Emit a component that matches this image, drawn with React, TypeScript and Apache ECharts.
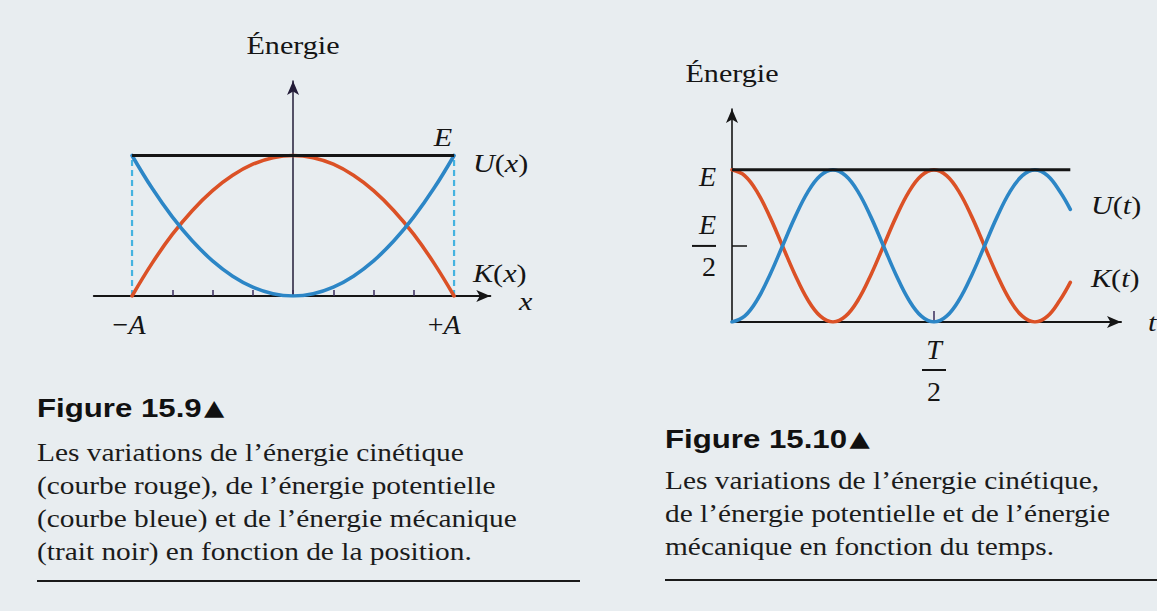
import React, { useEffect, useRef } from "react";
import * as echarts from "echarts";

// Figure 15.9: energy against position. Position in quarters of the amplitude A, energy in units of E.
const positions = [-4, -3.5, -3, -2.5, -2, -1.5, -1, -0.5, 0, 0.5, 1, 1.5, 2, 2.5, 3, 3.5, 4];
const potentialByPosition = [1, 0.766, 0.563, 0.391, 0.25, 0.141, 0.063, 0.016, 0, 0.016, 0.063, 0.141, 0.25, 0.391, 0.563, 0.766, 1];
const kineticByPosition = [0, 0.234, 0.438, 0.609, 0.75, 0.859, 0.938, 0.984, 1, 0.984, 0.938, 0.859, 0.75, 0.609, 0.438, 0.234, 0];
const positionTicks = [-4, -3, -2, -1, 0, 1, 2, 3, 4];
const positionLabels = [-4, 4];
const amplitude = 4;

// Figure 15.10: energy against time. Time in periods T, energy in units of E.
const times = [
  0, 0.03125, 0.0625, 0.09375, 0.125, 0.15625, 0.1875, 0.21875, 0.25, 0.28125, 0.3125, 0.34375, 0.375, 0.40625,
  0.4375, 0.46875, 0.5, 0.53125, 0.5625, 0.59375, 0.625, 0.65625, 0.6875, 0.71875, 0.75, 0.78125, 0.8125, 0.8375,
];
const potentialByTime = [
  0, 0.038, 0.146, 0.309, 0.5, 0.691, 0.854, 0.962, 1, 0.962, 0.854, 0.691, 0.5, 0.309,
  0.146, 0.038, 0, 0.038, 0.146, 0.309, 0.5, 0.691, 0.854, 0.962, 1, 0.962, 0.854, 0.74,
];
const kineticByTime = [
  1, 0.962, 0.854, 0.691, 0.5, 0.309, 0.146, 0.038, 0, 0.038, 0.146, 0.309, 0.5, 0.691,
  0.854, 0.962, 1, 0.962, 0.854, 0.691, 0.5, 0.309, 0.146, 0.038, 0, 0.038, 0.146, 0.26,
];
const timeTicks = [0.5];
const energyTicks = [0.5];
const energyLabels = [0.5, 1];
const mechanicalEnergy = 1;

const SERIF = "'Liberation Serif', 'Times New Roman', serif";
const SANS = "'Liberation Sans', Arial, sans-serif";
const INK = "#151515";
const AXIS_INK = "#231c38";
const RED = "#db5126";
const BLUE = "#2c86c6";
const DASH = "#45b3e0";

const pairs = (xs: number[], ys: number[]) => xs.map((x, i) => [x, ys[i]]);

const ital = { fontFamily: SERIF, fontStyle: "italic", fontSize: 28, color: INK };
const upright = { fontFamily: SERIF, fontStyle: "normal", fontSize: 28, color: INK };

const STRETCH = 1.16;

function label(x: number, y: number, text: string, align = "left", size = 26) {
  return {
    type: "text",
    x,
    y,
    scaleX: STRETCH,
    style: {
      text,
      align,
      verticalAlign: "middle",
      fontFamily: SERIF,
      fontSize: size,
      fill: INK,
      rich: {
        i: { fontFamily: SERIF, fontStyle: "italic", fontSize: size, fill: INK },
        n: { fontFamily: SERIF, fontStyle: "normal", fontSize: size, fill: INK },
      },
    },
  };
}

function caption(x: number, y: number, text: string) {
  return {
    type: "text",
    x,
    y,
    scaleX: 1.13,
    style: { text, verticalAlign: "middle", fontFamily: SERIF, fontSize: 26, fill: "#1b1b1b" },
  };
}

function heading(x: number, y: number, text: string) {
  return {
    type: "text",
    x,
    y,
    scaleX: 1.2,
    style: {
      text: `{h|${text}}{tri|▲}`,
      verticalAlign: "middle",
      rich: {
        h: { fontFamily: SANS, fontWeight: "bold", fontSize: 26, fill: "#111" },
        tri: { fontFamily: "'DejaVu Sans', sans-serif", fontSize: 22, fill: "#111", padding: [0, 0, 2, 2] },
      },
    },
  };
}

const fractionRich = {
  top: { ...ital, lineHeight: 30 },
  bar: { width: 24, height: 2, lineHeight: 12, backgroundColor: INK },
  bottom: { ...upright, lineHeight: 30 },
  e: { ...ital, lineHeight: 30, padding: [14, 0, 0, 0] },
};

function buildOption() {
  const lineSeries = (data: number[][], color: string, width: number, xi: number, extra: any = {}) => ({
    type: "line",
    xAxisIndex: xi,
    yAxisIndex: xi,
    data,
    symbol: "none",
    silent: true,
    lineStyle: { color, width, cap: "round", ...extra },
  });

  return {
    animation: false,
    backgroundColor: "#e8edf0",
    grid: [
      { left: 93.8, top: 81, width: 396.5, height: 215 },
      { left: 732, top: 109, width: 389, height: 213 },
    ],
    xAxis: [
      {
        gridIndex: 0,
        type: "value",
        min: -4.95,
        max: 4.9,
        axisLine: {
          show: true,
          onZero: true,
          symbol: ["none", "arrow"],
          symbolSize: [9, 14],
          lineStyle: { color: INK, width: 2 },
        },
        axisTick: {
          show: true,
          inside: true,
          length: 6,
          customValues: positionTicks,
          lineStyle: { color: "#3a2c5c", width: 1.5 },
        },
        axisLabel: {
          show: true,
          customValues: positionLabels,
          margin: 14,
          formatter: (v: number) => (v < 0 ? "{m|−}{a|A}{gap|}" : "{m|+}{a|A}{gap2|}"),
          rich: {
            m: { ...upright },
            a: { ...ital },
            gap: { width: 6 },
            gap2: { width: 20 },
          },
        },
        splitLine: { show: false },
      },
      {
        gridIndex: 1,
        type: "value",
        min: 0,
        max: 0.963,
        axisLine: {
          show: true,
          onZero: true,
          symbol: ["none", "arrow"],
          symbolSize: [9, 14],
          lineStyle: { color: INK, width: 2 },
        },
        axisTick: {
          show: true,
          inside: true,
          length: 11,
          customValues: timeTicks,
          lineStyle: { color: "#3a2c5c", width: 1.5 },
        },
        axisLabel: {
          show: true,
          customValues: timeTicks,
          margin: 12,
          formatter: () => "{top|T}\n{bar|}\n{bottom|2}",
          rich: fractionRich,
        },
        splitLine: { show: false },
      },
    ],
    yAxis: [
      {
        gridIndex: 0,
        type: "value",
        min: 0,
        max: 1.53,
        axisLine: {
          show: true,
          onZero: true,
          symbol: ["none", "arrow"],
          symbolSize: [9, 14],
          lineStyle: { color: AXIS_INK, width: 1.5 },
        },
        axisTick: { show: false },
        axisLabel: { show: false },
        splitLine: { show: false },
      },
      {
        gridIndex: 1,
        type: "value",
        min: 0,
        max: 1.4,
        axisLine: {
          show: true,
          onZero: true,
          symbol: ["none", "arrow"],
          symbolSize: [9, 14],
          lineStyle: { color: INK, width: 1.6 },
        },
        axisTick: {
          show: true,
          inside: true,
          length: 15,
          customValues: energyTicks,
          lineStyle: { color: INK, width: 1.5 },
        },
        axisLabel: {
          show: true,
          customValues: energyLabels,
          margin: 16,
          formatter: (v: number) => (v === 1 ? "{e|E}" : "{top|E}\n{bar|}\n{bottom|2}"),
          rich: fractionRich,
        },
        splitLine: { show: false },
      },
    ],
    series: [
      // Figure 15.9
      lineSeries([[-amplitude, 0], [-amplitude, mechanicalEnergy]], DASH, 2.2, 0, { type: [6, 4], cap: "butt" }),
      lineSeries([[amplitude, 0], [amplitude, mechanicalEnergy]], DASH, 2.2, 0, { type: [6, 4], cap: "butt" }),
      { ...lineSeries(pairs(positions, kineticByPosition), RED, 3.6, 0), smooth: 0.4 },
      { ...lineSeries(pairs(positions, potentialByPosition), BLUE, 3.6, 0), smooth: 0.4 },
      lineSeries([[-amplitude, mechanicalEnergy], [amplitude, mechanicalEnergy]], INK, 3, 0, { cap: "butt" }),
      // Figure 15.10
      { ...lineSeries(pairs(times, kineticByTime), RED, 3.6, 1), smooth: 0.4 },
      { ...lineSeries(pairs(times, potentialByTime), BLUE, 3.6, 1), smooth: 0.4 },
      lineSeries([[0, mechanicalEnergy], [times[times.length - 1], mechanicalEnergy]], INK, 3, 1, { cap: "butt" }),
    ],
    graphic: [
      // axis titles and curve names, first figure
      label(293, 45, "Énergie", "center"),
      label(443, 137, "{i|E}", "center"),
      label(473, 163, "{i|U}{n|(}{i|x}{n|)}"),
      label(473, 273, "{i|K}{n|(}{i|x}{n|)}"),
      label(519, 301, "{i|x}"),
      // axis titles and curve names, second figure
      label(732, 73, "Énergie", "center"),
      label(1091, 205, "{i|U}{n|(}{i|t}{n|)}"),
      label(1091, 278, "{i|K}{n|(}{i|t}{n|)}"),
      label(1148, 322, "{i|t}"),
      // captions
      heading(37, 408, "Figure 15.9"),
      caption(37, 452, "Les variations de l’énergie cinétique"),
      caption(37, 485, "(courbe rouge), de l’énergie potentielle"),
      caption(37, 518, "(courbe bleue) et de l’énergie mécanique"),
      caption(37, 551, "(trait noir) en fonction de la position."),
      { type: "line", shape: { x1: 37, y1: 581, x2: 580, y2: 581 }, style: { stroke: "#1a1a1a", lineWidth: 2 } },
      heading(665, 439, "Figure 15.10"),
      caption(665, 480, "Les variations de l’énergie cinétique,"),
      caption(665, 513, "de l’énergie potentielle et de l’énergie"),
      caption(665, 546, "mécanique en fonction du temps."),
      { type: "line", shape: { x1: 665, y1: 580, x2: 1157, y2: 580 }, style: { stroke: "#1a1a1a", lineWidth: 2 } },
    ],
  };
}

export default function App() {
  const ref = useRef<HTMLDivElement>(null);
  useEffect(() => {
    if (!ref.current) return;
    const chart = echarts.init(ref.current, undefined, { renderer: "svg" });
    chart.setOption(buildOption() as any);
    return () => chart.dispose();
  }, []);
  return (
    <div
      ref={ref}
      style={{ position: "fixed", left: 0, top: 0, width: 1157, height: 611, background: "#e8edf0" }}
    />
  );
}
